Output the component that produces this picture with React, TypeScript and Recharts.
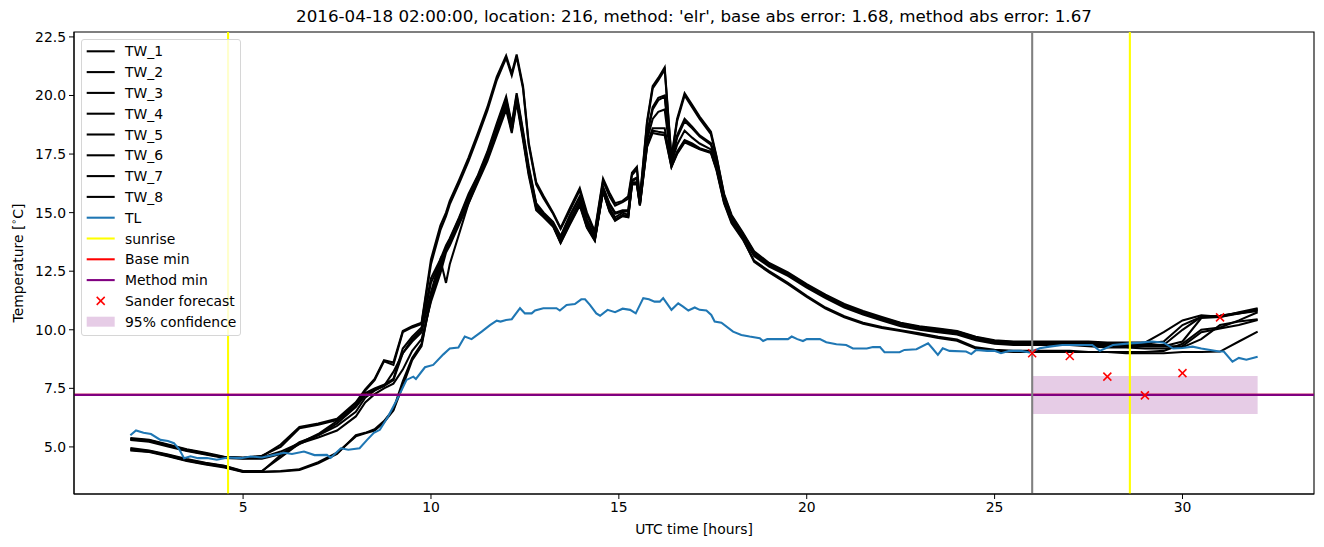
import React from "react";
import {
  ComposedChart,
  Line,
  Scatter,
  XAxis,
  YAxis,
  ReferenceLine,
  ReferenceArea,
} from "recharts";

const TITLE =
  "2016-04-18 02:00:00, location: 216, method: 'elr', base abs error: 1.68, method abs error: 1.67";

const HOURS = [
  2, 2.5, 3, 3.5, 4, 4.5, 5, 5.5, 6, 6.5,
  7, 7.5, 8, 8.25, 8.5, 8.75, 9, 9.25, 9.5, 9.75,
  10, 10.25, 10.4, 10.5, 10.75, 11, 11.25, 11.5, 11.75, 12,
  12.15, 12.28, 12.45, 12.6, 12.8, 13, 13.25, 13.45, 13.7, 13.96,
  14.15, 14.36, 14.58, 14.75, 14.9, 15.1, 15.25, 15.35, 15.48, 15.56,
  15.75, 15.9, 16.05, 16.22, 16.4, 16.55, 16.75, 16.95, 17.15, 17.45,
  17.6, 17.8, 18, 18.3, 18.6, 19, 19.5, 20, 20.5, 21,
  21.5, 22, 22.5, 23, 23.5, 24, 24.5, 25, 25.5, 26,
  26.5, 27, 27.5, 28, 28.5, 29, 29.5, 30, 30.5, 31,
  31.5, 32,
];

const TW_1 = [
  5.38, 5.3, 5.1, 4.9, 4.75, 4.58, 4.55, 4.6, 5.1, 5.85,
  6.0, 6.2, 6.9, 7.45, 7.9, 8.7, 8.6, 9.95, 10.15, 10.3,
  13.0, 14.45, 15.0, 15.5, 16.4, 17.35, 18.4, 19.5, 20.8, 21.7,
  20.95, 21.75, 20.4, 18.0, 16.3, 15.7, 15.0, 14.35, 15.2, 16.05,
  15.0, 14.2, 16.45, 15.85, 15.4, 15.5, 15.7, 16.7, 16.95, 15.6,
  18.9, 20.4, 20.75, 21.2, 17.35, 19.0, 20.1, 19.6, 19.1, 18.45,
  17.4, 15.8, 14.9, 14.15, 13.35, 12.85, 12.45, 11.95, 11.5, 11.1,
  10.8, 10.55, 10.3, 10.15, 10.05, 9.95, 9.7, 9.55, 9.5, 9.5,
  9.5, 9.5, 9.5, 9.45, 9.45, 9.45, 9.9, 10.4, 10.62, 10.55,
  10.75, 10.92,
];

const TW_2 = [
  5.35, 5.28, 5.08, 4.88, 4.72, 4.56, 4.53, 4.62, 5.0, 5.8,
  5.95, 6.15, 6.85, 7.4, 7.85, 8.65, 8.5, 9.9, 10.1, 10.25,
  12.8, 14.25, 14.85, 15.35, 16.25, 17.2, 18.25, 19.35, 20.65, 21.6,
  20.85, 21.65, 20.3, 17.9, 16.2, 15.6, 14.95, 14.3, 15.1, 15.95,
  14.9, 14.15, 16.35, 15.7, 15.3, 15.45, 15.6, 16.6, 16.85, 15.55,
  18.8, 20.3, 20.65, 21.1, 17.3, 18.9, 20.0, 19.5, 19.0, 18.35,
  17.35, 15.75, 14.85, 14.1, 13.3, 12.8, 12.4, 11.9, 11.45, 11.05,
  10.75, 10.5, 10.28, 10.12, 10.02, 9.92, 9.68, 9.52, 9.48, 9.48,
  9.48, 9.48, 9.45, 9.42, 9.42, 9.4, 9.5, 10.2, 10.55, 10.6,
  10.72, 10.88,
];

const TW_3 = [
  5.32, 5.25, 5.05, 4.85, 4.7, 4.55, 4.52, 4.55, 4.8, 5.16,
  5.55, 6.1, 6.75, 7.3, 7.5, 7.65, 7.9, 9.2, 9.7, 10.1,
  12.2, 13.0, 13.6, 13.9, 14.8, 15.8, 16.6, 17.6, 18.8, 19.95,
  18.8, 20.1, 18.5, 17.0, 15.4, 15.0, 14.6, 14.0, 14.9, 15.7,
  14.7, 14.0, 16.1, 15.4, 15.0, 15.1, 15.1, 16.4, 16.5, 15.5,
  18.4, 19.5, 19.9, 20.0, 17.25, 18.3, 19.0, 18.67, 18.3, 17.97,
  17.2, 15.7, 14.8, 14.1, 13.3, 12.8, 12.4, 11.9, 11.45, 11.05,
  10.75, 10.5, 10.25, 10.1, 10.0, 9.9, 9.65, 9.5, 9.45, 9.45,
  9.45, 9.45, 9.4, 9.4, 9.35, 9.35, 9.35, 10.0, 10.55, 10.6,
  10.7, 10.85,
];

const TW_4 = [
  5.3, 5.22, 5.02, 4.83, 4.68, 4.53, 4.5, 4.5, 4.7, 5.12,
  5.5, 6.0, 6.7, 7.2, 7.45, 7.6, 7.85, 9.0, 9.6, 10.0,
  12.0, 12.9, 13.5, 13.85, 14.75, 15.7, 16.55, 17.5, 18.7, 19.85,
  18.7, 20.0, 18.4, 16.9, 15.35, 14.95, 14.55, 13.95, 14.85, 15.65,
  14.65, 13.95, 16.05, 15.35, 14.95, 15.05, 15.05, 16.35, 16.45, 15.45,
  18.3, 19.4, 19.8, 19.95, 17.2, 18.2, 18.9, 18.6, 18.25, 17.9,
  17.15, 15.65, 14.75, 14.05, 13.25, 12.75, 12.38, 11.88, 11.42, 11.02,
  10.72, 10.48, 10.22, 10.08, 9.98, 9.88, 9.62, 9.48, 9.42, 9.42,
  9.42, 9.4, 9.38, 9.35, 9.32, 9.3, 9.3, 9.3, 9.9, 10.05,
  10.2, 10.42,
];

const TW_5 = [
  4.9, 4.82, 4.65, 4.45, 4.3, 4.18, 3.95, 3.95, 4.65, 5.2,
  5.5, 5.9, 6.5, 7.1, 7.4, 7.6, 8.2, 9.0, 9.5, 9.9,
  11.6, 13.0, 12.0, 12.8, 14.1, 15.4, 16.4, 17.3, 18.6, 19.7,
  18.6, 19.9, 18.3, 16.8, 15.3, 14.9, 14.5, 13.8, 14.7, 15.5,
  14.5, 13.85, 16.0, 15.2, 14.8, 15.0, 14.9, 16.3, 16.3, 15.4,
  18.1, 19.0, 19.3, 19.4, 17.1, 17.9, 18.5, 18.2, 17.95, 17.7,
  17.0, 15.6, 14.7, 14.0, 13.2, 12.75, 12.35, 11.85, 11.4, 11.0,
  10.7, 10.45, 10.2, 10.05, 9.95, 9.85, 9.6, 9.45, 9.4, 9.4,
  9.4, 9.4, 9.35, 9.3, 9.3, 9.3, 9.3, 9.5, 10.5, 10.55,
  10.7, 10.8,
];

const TW_6 = [
  4.85, 4.78, 4.6, 4.4, 4.25, 4.12, 3.93, 3.93, 3.95, 4.02,
  4.3, 4.7, 5.5, 5.6, 5.75, 6.1, 6.6, 7.8, 8.8, 9.4,
  11.3, 12.6, 13.4, 13.7, 14.6, 15.5, 16.4, 17.3, 18.4, 19.5,
  18.5, 19.8, 18.2, 16.7, 15.2, 14.85, 14.45, 13.75, 14.6, 15.4,
  14.4, 13.85, 15.95, 15.1, 14.7, 14.9, 14.85, 16.25, 16.25, 15.35,
  17.9, 18.6, 18.6, 18.6, 17.0, 17.6, 18.1, 17.95, 17.75, 17.6,
  16.9, 15.5, 14.65, 13.95, 13.15, 12.7, 12.3, 11.8, 11.35, 10.95,
  10.65, 10.4, 10.15, 10.0, 9.9, 9.8, 9.55, 9.4, 9.35, 9.35,
  9.35, 9.35, 9.3, 9.25, 9.25, 9.2, 9.2, 9.25, 9.6, 10.2,
  10.35, 10.45,
];

const TW_7 = [
  4.95, 4.85, 4.68, 4.48, 4.32, 4.2, 3.97, 3.97, 4.55, 5.15,
  5.4, 5.7, 6.3, 6.9, 7.25, 7.5, 7.7, 8.3, 9.1, 9.6,
  11.2, 12.4, 13.3, 13.6, 14.5, 15.4, 16.3, 17.2, 18.3, 19.4,
  18.4, 19.7, 18.1, 16.6, 15.1, 14.8, 14.4, 13.7, 14.5, 15.3,
  14.35, 13.8, 15.9, 15.05, 14.65, 14.85, 14.8, 16.2, 16.2, 15.3,
  17.8, 18.4, 18.35, 18.3, 16.95, 17.5, 18.0, 17.85, 17.7, 17.55,
  16.8, 15.4, 14.55, 13.85, 12.95, 12.5, 12.0, 11.45, 10.95, 10.58,
  10.3, 10.12, 9.98, 9.85, 9.7, 9.58, 9.25, 9.15, 9.1, 9.1,
  9.1, 9.1, 9.05, 9.05, 9.05, 9.05, 9.1, 9.4, 10.0, 10.1,
  10.4, 10.75,
];

const TW_8 = [
  4.88, 4.8, 4.62, 4.42, 4.27, 4.15, 3.94, 3.94, 3.97, 4.05,
  4.35, 4.75, 5.45, 5.58, 5.7, 6.05, 6.55, 7.6, 8.7, 9.3,
  11.4, 12.8, 13.5, 13.8, 14.7, 15.6, 16.5, 17.4, 18.5, 19.55,
  18.55, 19.85, 18.25, 16.75, 15.25, 14.85, 14.45, 13.72, 14.55, 15.35,
  14.4, 13.82, 15.92, 15.1, 14.68, 14.88, 14.82, 16.22, 16.22, 15.32,
  17.85, 18.5, 18.45, 18.4, 16.95, 17.55, 18.05, 17.9, 17.72, 17.58,
  16.85, 15.45, 14.6, 13.9, 12.9, 12.45, 11.95, 11.4, 10.9, 10.53,
  10.26, 10.08, 9.95, 9.8, 9.65, 9.53, 9.2, 9.1, 9.05, 9.05,
  9.05, 9.05, 9.05, 9.05, 9.0, 9.0, 9.0, 9.05, 9.05, 9.07,
  9.5, 9.92,
];

const TL_HOURS = [
  2.0, 2.15, 2.35, 2.55, 2.8, 3.0, 3.16, 3.3, 3.43, 3.6,
  3.8, 4.04, 4.3, 4.6, 4.94, 5.2, 5.5, 5.83, 6.1, 6.3,
  6.62, 6.9, 7.23, 7.33, 7.6, 7.8, 8.1, 8.3, 8.48, 8.64,
  8.86, 9.09, 9.35, 9.53, 9.6, 9.84, 10.06, 10.33, 10.5, 10.73,
  10.9, 11.08, 11.35, 11.57, 11.75, 11.85, 12.0, 12.15, 12.37, 12.5,
  12.68, 12.77, 12.99, 13.34, 13.43, 13.61, 13.83, 14.0, 14.1, 14.23,
  14.4, 14.5, 14.7, 14.9, 15.1, 15.3, 15.45, 15.65, 15.8, 15.95,
  16.09, 16.18, 16.4, 16.58, 16.7, 16.85, 17.02, 17.15, 17.33, 17.46,
  17.55, 17.73, 18.04, 18.26, 18.48, 18.75, 18.84, 18.95, 19.5, 19.6,
  19.75, 19.9, 20.0, 20.35, 20.52, 20.79, 21.05, 21.23, 21.6, 21.76,
  21.95, 22.07, 22.47, 22.6, 22.92, 23.23, 23.35, 23.49, 23.62, 23.8,
  24.24, 24.38, 24.51, 24.8, 25.0, 25.17, 25.4, 25.7, 25.93, 26.2,
  26.46, 26.8, 27.3, 27.6, 27.8, 28.15, 28.6, 28.9, 29.2, 29.5,
  29.75, 30.0, 30.27, 30.5, 30.7, 30.98, 31.1, 31.33, 31.5, 31.7,
  32.0,
];

const TL_VALUES = [
  5.5, 5.7, 5.6, 5.55, 5.3, 5.25, 5.16, 4.9, 4.52, 4.6,
  4.52, 4.53, 4.45, 4.55, 4.52, 4.59, 4.55, 4.66, 4.75, 4.7,
  4.8, 4.65, 4.66, 4.53, 4.94, 4.88, 4.94, 5.3, 5.6, 5.73,
  6.3, 7.0, 7.86, 8.0, 7.9, 8.4, 8.5, 8.95, 9.2, 9.24,
  9.71, 9.6, 9.92, 10.2, 10.39, 10.35, 10.42, 10.45, 10.92, 10.7,
  10.7, 10.82, 10.92, 10.92, 10.82, 11.06, 11.1, 11.3, 11.3, 11.06,
  10.7, 10.6, 10.85, 10.75, 10.9, 10.85, 10.7, 11.35, 11.3, 11.2,
  11.2, 11.35, 10.85, 11.13, 11.0, 10.82, 10.95, 10.85, 10.82, 10.63,
  10.35, 10.3, 9.92, 9.78, 9.71, 9.64, 9.52, 9.6, 9.6, 9.71,
  9.6, 9.52, 9.6, 9.6, 9.47, 9.38, 9.35, 9.2, 9.2, 9.26,
  9.26, 9.04, 9.04, 9.14, 9.17, 9.42, 9.2, 8.93, 9.21, 9.1,
  9.07, 8.96, 9.14, 9.1, 9.1, 9.0, 9.1, 9.1, 9.03, 9.21,
  9.28, 9.35, 9.35, 9.35, 9.1, 9.35, 9.42, 9.45, 9.5, 9.45,
  9.2, 9.22, 9.28, 9.2, 9.15, 9.07, 9.07, 8.64, 8.8, 8.72,
  8.85,
];

const SANDER_HOURS = [26, 27, 28, 29, 30, 31];
const SANDER_VALUES = [9.0, 8.88, 8.0, 7.2, 8.15, 10.53];

const SUNRISE_HOURS = [4.6, 28.6];
const NOW_HOUR = 26;
const BASE_MIN = 7.22;
const METHOD_MIN = 7.22;
const CONF_START = 26;
const CONF_END = 32;
const CONF_LOW = 6.41;
const CONF_HIGH = 8.03;

const X_DOMAIN = [0.5, 33.5];
const Y_DOMAIN = [2.99, 22.71];
const X_TICKS = [5, 10, 15, 20, 25, 30];
const Y_TICKS = [5, 7.5, 10, 12.5, 15, 17.5, 20, 22.5];

const TW_SERIES = [TW_1, TW_2, TW_3, TW_4, TW_5, TW_6, TW_7, TW_8];
const TW_NAMES = ["TW_1", "TW_2", "TW_3", "TW_4", "TW_5", "TW_6", "TW_7", "TW_8"];

const rows = HOURS.map((t, i) => {
  const r: Record<string, number> = { t };
  TW_SERIES.forEach((s, k) => {
    r["tw" + (k + 1)] = s[i];
  });
  return r;
});
const tlRows = TL_HOURS.map((t, i) => ({ t, tl: TL_VALUES[i] }));
const sanderRows = SANDER_HOURS.map((t, i) => ({ t, s: SANDER_VALUES[i] }));

const FONT = "'DejaVu Sans', sans-serif";
const BLUE = "#1f77b4";
const LW = 2.08;

const XMark = (props: any) => {
  const { cx, cy } = props;
  if (cx == null || cy == null) return null;
  const d = 4;
  return (
    <g>
      <line x1={cx - d} y1={cy - d} x2={cx + d} y2={cy + d} stroke="#ff0000" strokeWidth={1.5} />
      <line x1={cx - d} y1={cy + d} x2={cx + d} y2={cy - d} stroke="#ff0000" strokeWidth={1.5} />
    </g>
  );
};

type LegendItem = { label: string; kind: "line" | "x" | "patch"; color: string };
const LEGEND_ITEMS: LegendItem[] = [
  ...TW_NAMES.map((n) => ({ label: n, kind: "line" as const, color: "#000000" })),
  { label: "TL", kind: "line", color: BLUE },
  { label: "sunrise", kind: "line", color: "#ffff00" },
  { label: "Base min", kind: "line", color: "#ff0000" },
  { label: "Method min", kind: "line", color: "#800080" },
  { label: "Sander forecast", kind: "x", color: "#ff0000" },
  { label: "95% confidence", kind: "patch", color: "rgba(128,0,128,0.2)" },
];

function LegendBox() {
  return (
    <div
      style={{
        position: "absolute",
        left: 81,
        top: 39,
        width: 160,
        height: 297,
        border: "1px solid #d6d6d6",
        borderRadius: 3,
        background: "rgba(255,255,255,0.8)",
        boxSizing: "border-box",
      }}
    >
      <svg width={160} height={297} style={{ position: "absolute", left: -1, top: -1 }}>
        {LEGEND_ITEMS.map((it, i) => {
          const cy = 12.3 + i * 20.8;
          let handle;
          if (it.kind === "line") {
            handle = <line x1={5.7} x2={33.7} y1={cy} y2={cy} stroke={it.color} strokeWidth={LW} />;
          } else if (it.kind === "x") {
            handle = (
              <g>
                <line x1={15.7} y1={cy - 4} x2={23.7} y2={cy + 4} stroke={it.color} strokeWidth={1.5} />
                <line x1={15.7} y1={cy + 4} x2={23.7} y2={cy - 4} stroke={it.color} strokeWidth={1.5} />
              </g>
            );
          } else {
            handle = <rect x={5.7} y={cy - 5} width={28} height={10} fill={it.color} />;
          }
          return (
            <g key={it.label}>
              {handle}
              <text x={44} y={cy} dy="0.36em" fontSize={13.9} fontFamily={FONT} fill="#000">
                {it.label}
              </text>
            </g>
          );
        })}
      </svg>
    </div>
  );
}

export default function App() {
  const tick = { fontSize: 13.9, fill: "#000", fontFamily: FONT };
  return (
    <div
      style={{
        position: "absolute",
        left: 0,
        top: 0,
        width: 1324,
        height: 547,
        background: "#fff",
        fontFamily: FONT,
      }}
    >
      <ComposedChart
        width={1324}
        height={547}
        data={rows}
        margin={{ top: 32, right: 10, bottom: 0, left: 0 }}
      >
        <XAxis
          dataKey="t"
          type="number"
          domain={X_DOMAIN}
          ticks={X_TICKS}
          allowDataOverflow
          height={53}
          tickSize={5}
          tickMargin={3}
          tick={tick}
          stroke="#000"
          axisLine={{ stroke: "#000" }}
          tickLine={{ stroke: "#000" }}
        />
        <YAxis
          type="number"
          domain={Y_DOMAIN}
          ticks={Y_TICKS}
          allowDataOverflow
          width={74}
          tickSize={5}
          tickMargin={3}
          tick={tick}
          tickFormatter={(v: number) => v.toFixed(1)}
          axisLine={{ stroke: "#000" }}
          tickLine={{ stroke: "#000" }}
        />
        <ReferenceArea
          x1={CONF_START}
          x2={CONF_END}
          y1={CONF_LOW}
          y2={CONF_HIGH}
          fill="#800080"
          fillOpacity={0.2}
          stroke="none"
          ifOverflow="hidden"
        />
        {TW_NAMES.map((n, k) => (
          <Line
            key={n}
            name={n}
            dataKey={"tw" + (k + 1)}
            type="linear"
            stroke="#000"
            strokeWidth={LW}
            dot={false}
            activeDot={false}
            isAnimationActive={false}
          />
        ))}
        <Line
          data={tlRows}
          name="TL"
          dataKey="tl"
          type="linear"
          stroke={BLUE}
          strokeWidth={LW}
          dot={false}
          activeDot={false}
          isAnimationActive={false}
        />
        <ReferenceLine x={SUNRISE_HOURS[0]} stroke="#ffff00" strokeWidth={LW} />
        <ReferenceLine x={SUNRISE_HOURS[1]} stroke="#ffff00" strokeWidth={LW} />
        <ReferenceLine y={BASE_MIN} stroke="#ff0000" strokeWidth={LW} />
        <ReferenceLine y={METHOD_MIN} stroke="#800080" strokeWidth={LW} />
        <ReferenceLine x={NOW_HOUR} stroke="#808080" strokeWidth={LW} />
        <Scatter
          data={sanderRows}
          dataKey="s"
          name="Sander forecast"
          shape={XMark}
          isAnimationActive={false}
        />
        <ReferenceArea
          x1={X_DOMAIN[0]}
          x2={X_DOMAIN[1]}
          y1={Y_DOMAIN[0]}
          y2={Y_DOMAIN[1]}
          fill="none"
          fillOpacity={0}
          stroke="#000"
          strokeWidth={1.1}
          ifOverflow="visible"
        />
      </ComposedChart>
      <div
        style={{
          position: "absolute",
          left: 74,
          width: 1240,
          top: 6,
          textAlign: "center",
          fontSize: 16.7,
          lineHeight: "20px",
          color: "#000",
          whiteSpace: "nowrap",
        }}
      >
        {TITLE}
      </div>
      <div
        style={{
          position: "absolute",
          left: 74,
          width: 1240,
          top: 520,
          textAlign: "center",
          fontSize: 13.9,
          lineHeight: "18px",
          color: "#000",
        }}
      >
        UTC time [hours]
      </div>
      <div
        style={{
          position: "absolute",
          left: 18 - 100,
          top: 263 - 9,
          width: 200,
          textAlign: "center",
          fontSize: 13.9,
          lineHeight: "18px",
          color: "#000",
          transform: "rotate(-90deg)",
          transformOrigin: "50% 50%",
        }}
      >
        Temperature [<sup style={{ fontSize: 9.5, verticalAlign: "6px", lineHeight: 0 }}>∘</sup>C]
      </div>
      <LegendBox />
    </div>
  );
}
